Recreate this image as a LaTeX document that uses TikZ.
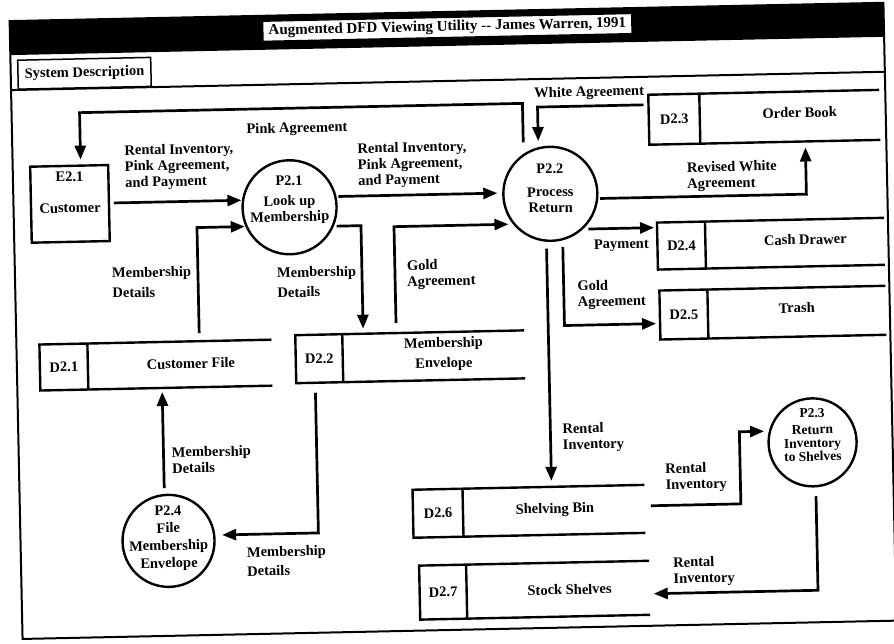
\documentclass[tikz,border=0pt]{standalone}
\usepackage{fontspec}
\setmainfont{Liberation Serif}
\usetikzlibrary{arrows.meta}
\newcommand\dfdstore[9]{%
  \node[storebox, minimum width={(#5)-(#2)}, minimum height={(#6)-(#3)}] (#1) at ({((#2)+(#5))/2},{((#3)+(#6))/2}) {};
  \draw[storeline] (#1.north east) -- (#1.north west) -- (#1.south west) -- (#1.south east);
  \draw[storeline] (#4,#3) -- (#4,#6);
  \node[txt] (#1id) at ({((#2)+(#4))/2},{((#3)+(#6))/2}) {#7};
  \node[txt] (#1lab) at (#9) {#8};
}
\begin{document}
\begin{tikzpicture}[x=1pt,y=-1pt,
  font=\bfseries\fontsize{14.5}{16}\selectfont,
  storebox/.style={inner sep=0pt, outer sep=0pt, draw=none},
  storeline/.style={line width=2.4pt, line join=miter},
  txt/.style={inner sep=0pt, align=center},
  lbl/.style={inner sep=0pt, align=left, anchor=west},
  proc/.style={circle, draw, line width=2.4pt, inner sep=0pt, outer sep=0pt},
  ent/.style={draw, line width=2.4pt, inner sep=0pt, outer sep=0pt},
  flow/.style={line width=2.7pt, -{Triangle[length=14pt,width=11pt]}},
  framel/.style={line width=2pt}]
\useasboundingbox (0,0) rectangle (894,644);
\fill[white] (0,0) rectangle (894,644);
\clip (0,0) rectangle (894,644);
\begin{scope}[transform canvas={rotate around={1.2:(447,322)}}]
% window
\fill[black] (16,12) rectangle (890,46);
\draw[framel] (16,12) rectangle (890,630);
\draw[framel] (16,81) -- (890,81);
\node[draw, fill=white, line width=1.2pt, minimum width=369pt, minimum height=20pt, inner sep=1pt, font=\bfseries\fontsize{15}{16}\selectfont] (title) at (453.5,27.5) {Augmented DFD Viewing Utility -{}- James Warren, 1991};
\node[draw, line width=1.5pt, minimum width=133pt, minimum height=29pt, anchor=south west, inner sep=0pt] (tab) at (22.5,81) {System Description};

% processes and entity
\node[ent, minimum width=78pt, minimum height=76pt] (e21) at (72.5,196) {};
\node[txt] (e21t) at (72.5,184.5) {E2.1\\[15pt]Customer};
\node[proc, minimum size=94pt] (p21) at (292,204) {};
\node[txt] (p21t) at (292,197) {P2.1\\[4pt]Look up\\Membership};
\node[proc, minimum size=94pt] (p22) at (553,196) {};
\node[txt] (p22t) at (553,190.5) {P2.2\\[7pt]Process\\Return};
\node[proc, minimum size=88pt] (p23) at (810,450) {};
\node[txt, font=\bfseries\fontsize{13.5}{13.5}\selectfont] (p23t) at (810,442.5) {P2.3\\[3pt]Return\\Inventory\\to Shelves};
\node[proc, minimum size=92pt] (p24) at (164,535) {};
\node[txt, font=\bfseries\fontsize{14.5}{17.5}\selectfont] (p24t) at (164,532.5) {P2.4\\File\\Membership\\Envelope};

% data stores
\dfdstore{d21}{39}{336}{87}{271}{382}{D2.1}{Customer File}{190,358}
\dfdstore{d22}{295}{332}{342}{524}{380}{D2.2}{Membership\\[4pt]Envelope}{443,354}
\dfdstore{d23}{653}{99}{704}{884}{149}{D2.3}{Order Book}{804,120}
\dfdstore{d24}{659}{227}{707}{886}{274}{D2.4}{Cash Drawer}{807,247}
\dfdstore{d25}{660}{295}{708}{886}{344}{D2.5}{Trash}{797,315}
\dfdstore{d26}{409}{489}{459}{641}{537}{D2.6}{Shelving Bin}{551,512}
\dfdstore{d27}{414}{565}{461}{644}{619}{D2.7}{Stock Shelves}{564,592}

% bend coordinates
\coordinate (pkR) at (527,105);
\coordinate (pkL) at (84,105);
\coordinate (waC) at (542,109);
\coordinate (md1) at (199,223);
\coordinate (md2) at (363,280);
\coordinate (gd) at (396,280);
\coordinate (rw) at (809,202);
\coordinate (gt) at (564,328);
\coordinate (ri1) at (737,510);
\coordinate (ri2) at (812,598);
\coordinate (mp) at (314,530);

% connectors
\draw[flow, shorten <=5pt, shorten >=6pt] (p22.north -| pkR) -- (pkR) -- (pkL) -- (pkL |- e21.north);
\draw[flow, shorten <=5pt, shorten >=6pt] (d23.west |- waC) -- (waC) -- (waC |- p22.north);
\draw[flow, shorten <=5pt, shorten >=1pt] (e21.east) -- (e21.east -| p21.west);
\draw[flow, shorten <=3pt, shorten >=6pt] (p21.12.3) -- (p21.12.3 -| p22.west);
\draw[flow, shorten <=8pt, shorten >=2pt] (d21.north -| md1) |- (p21.203.8);
\draw[flow, shorten <=4pt, shorten >=5pt] (p21.-25.2) -| (d22.north -| md2);
\draw[flow, shorten <=10pt, shorten >=6pt] (d22.north -| gd) |- (p22.219.7);
\draw[flow, shorten <=3pt, shorten >=6pt] (p22.-7.3) -| (d23.south -| rw);
\draw[flow, shorten <=7pt, shorten >=3pt] (p22.-50) -- (p22.-50 -| d24.west);
\draw[flow, shorten <=8pt, shorten >=4pt] (p22.-76.5) |- (d25.west |- gt);
\draw[flow, shorten <=8pt, shorten >=6pt] (p22.-96.1) -- (p22.-96.1 |- d26.north);
\draw[flow, shorten <=6pt, shorten >=6pt] (d26.east |- ri1) -- (ri1) |- (p23.164.2);
\draw[flow, shorten <=10pt, shorten >=4pt] (p23.-87.4) |- (d27.east |- ri2);
\draw[flow, shorten <=7pt, shorten >=4pt] (p24.94.4) -- (p24.94.4 |- d21.south);
\draw[flow, shorten <=10pt, shorten >=8pt] (d22.south -| mp) |- (p24.6.2);

% labels
\node[lbl] (l1) at (128,161) {Rental Inventory,\\Pink Agreement,\\and Payment};
\node[lbl] (l2) at (361,164) {Rental Inventory,\\Pink Agreement,\\and Payment};
\node[txt] (l3) at (301,126) {Pink Agreement};
\node[txt] (l4) at (594,96) {White Agreement};
\node[lbl] (l5) at (113,276) {Membership\\[4pt]Details};
\node[lbl] (l6) at (278,279) {Membership\\[4pt]Details};
\node[lbl] (l7) at (408,274) {Gold\\Agreement};
\node[lbl] (l8) at (690,182) {Revised White\\Agreement};
\node[txt] (l9) at (623,249) {Payment};
\node[lbl] (l10) at (578,298) {Gold\\Agreement};
\node[lbl] (l11) at (560,440.5) {Rental\\Inventory};
\node[lbl] (l12) at (662,482.5) {Rental\\Inventory};
\node[lbl] (l13) at (668,576.5) {Rental\\Inventory};
\node[lbl] (l14) at (169,454.5) {Membership\\Details};
\node[lbl] (l15) at (242,557.5) {Membership\\[3pt]Details};
\end{scope}
\end{tikzpicture}
\end{document}
